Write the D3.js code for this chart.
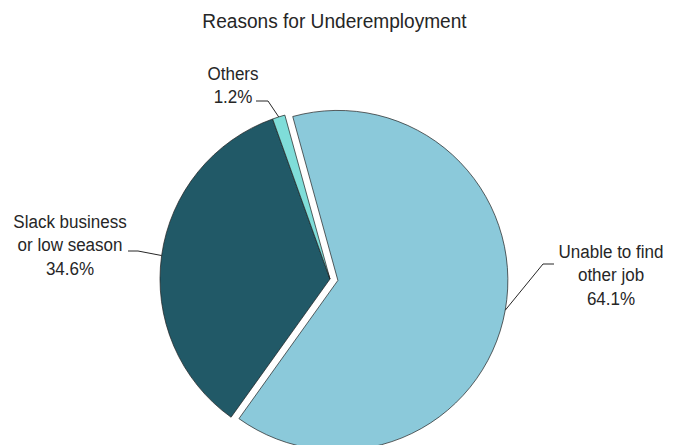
<!DOCTYPE html>
<html>
<head>
<meta charset="utf-8">
<script src="https://cdn.jsdelivr.net/npm/d3@7"></script>
<style>
  html, body { margin: 0; padding: 0; background: #fff; }
  svg { display: block; }
  text { font-family: "Liberation Sans", Arial, sans-serif; fill: #262626; }
</style>
</head>
<body>
<svg id="chart" width="680" height="445"></svg>
<script>
const title = "Reasons for Underemployment";
const categories = ["Unable to find other job", "Slack business or low season", "Others"];
const labelLines = [["Unable to find", "other job"], ["Slack business", "or low season"], ["Others"]];
const values = [64.1, 34.6, 1.2];
const colors = ["#8BC9DA", "#215967", "#7FDDD9"];
const exploded = [true, false, false];

const svg = d3.select("#chart");
const cx = 330, cy = 279, R = 170, explode = 8;

// title
svg.append("text")
  .attr("transform", `translate(334.5,28) scale(0.91,1)`)
  .attr("text-anchor", "middle")
  .style("font-size", "21px")
  .text(title);

const data = categories.map((c, i) => ({ cat: c, value: values[i], lines: labelLines[i], color: colors[i], exploded: exploded[i] }));

const startDeg = -15.4;
const pie = d3.pie().sort(null).value(d => d.value)
  .startAngle(startDeg * Math.PI / 180)
  .endAngle(startDeg * Math.PI / 180 + 2 * Math.PI);
const arcs = pie(data);
const arc = d3.arc().innerRadius(0).outerRadius(R);

const g = svg.append("g").attr("transform", `translate(${cx},${cy})`);

function offset(d) {
  if (!d.data.exploded) return [0, 0];
  const a = (d.startAngle + d.endAngle) / 2;
  return [explode * Math.sin(a), -explode * Math.cos(a)];
}

g.selectAll("path.slice").data(arcs).join("path")
  .attr("class", "slice")
  .attr("d", arc)
  .attr("transform", d => `translate(${offset(d)})`)
  .attr("fill", d => d.data.color)
  .attr("stroke", "#1f1f1f")
  .attr("stroke-width", 0.7)
  .attr("stroke-linejoin", "round");

// label layout: elbow, tail, text anchor position
const layout = [
  { elbow: [543, 264], tail: [554, 264], tx: 611, ty: 258 },
  { elbow: [138, 251], tail: [128, 251], tx: 70, ty: 228 },
  { elbow: [268, 101], tail: [256, 101], tx: 233, ty: 80 }
];
const lineH = 23.5;

arcs.forEach((d, i) => {
  const a = (d.startAngle + d.endAngle) / 2;
  const o = offset(d);
  const px = cx + o[0] + R * Math.sin(a);
  const py = cy + o[1] - R * Math.cos(a);
  const L = layout[i];
  svg.append("polyline")
    .attr("points", [[px, py], L.elbow, L.tail].map(p => p.join(",")).join(" "))
    .attr("fill", "none")
    .attr("stroke", "#262626")
    .attr("stroke-width", 1);
  const lines = d.data.lines.concat([d3.format(".1f")(d.data.value) + "%"]);
  const t = svg.append("text")
    .attr("transform", `translate(${L.tx},${L.ty}) scale(0.945,1)`)
    .attr("text-anchor", "middle")
    .style("font-size", "18px");
  lines.forEach((s, k) => {
    t.append("tspan").attr("x", 0).attr("y", k * lineH).text(s);
  });
});
</script>
</body>
</html>
